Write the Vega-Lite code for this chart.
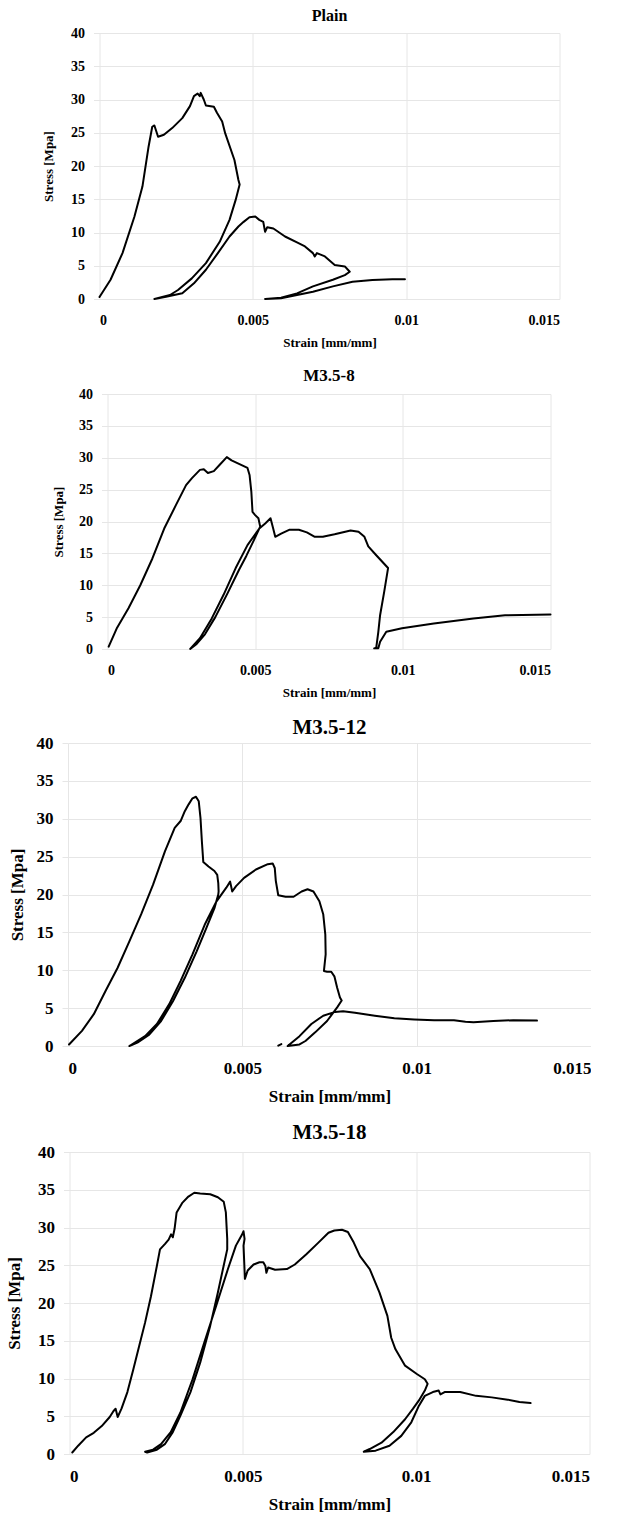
{
  "$schema": "https://vega.github.io/schema/vega-lite/v6.json",
  "background": "white",
  "padding": {"left": 5, "top": 8, "right": 0, "bottom": 0},
  "spacing": 18,
  "center": true,
  "config": {
    "font": "Liberation Serif",
    "view": {"stroke": null},
    "axis": {
      "labelFont": "Liberation Serif", "labelFontWeight": "bold", "labelColor": "#000",
      "titleFont": "Liberation Serif", "titleFontWeight": "bold", "titleColor": "#000",
      "gridColor": "#e6e6e6", "gridWidth": 1, "domain": false,
      "tickColor": "#e6e6e6", "tickSize": 5, "labelPadding": 9, "titleBaseline": "middle"
    },
    "axisY": {"tickSize": 6},
    "axisX": {"tickOpacity": 0},
    "title": {"font": "Liberation Serif", "fontWeight": "bold", "color": "#000", "frame": "group", "anchor": "middle"},
    "line": {"color": "#000", "strokeWidth": 2, "strokeJoin": "round", "strokeCap": "round"}
  },
  "datasets": {
    "plain": [
      {"seg":1,"i":0,"strain":0,"stress":0.3},{"seg":1,"i":1,"strain":0.00036,"stress":2.9},{"seg":1,"i":2,"strain":0.00075,"stress":6.9},{"seg":1,"i":3,"strain":0.00114,"stress":12.4},{"seg":1,"i":4,"strain":0.0014,"stress":16.9},{"seg":1,"i":5,"strain":0.0016,"stress":22.9},{"seg":1,"i":6,"strain":0.00172,"stress":25.9},{"seg":1,"i":7,"strain":0.00179,"stress":26.1},{"seg":1,"i":8,"strain":0.00191,"stress":24.4},{"seg":1,"i":9,"strain":0.0021,"stress":24.7},{"seg":1,"i":10,"strain":0.00237,"stress":25.7},{"seg":1,"i":11,"strain":0.0027,"stress":27.2},{"seg":1,"i":12,"strain":0.00295,"stress":29.0},{"seg":1,"i":13,"strain":0.00308,"stress":30.5},{"seg":1,"i":14,"strain":0.0032,"stress":30.9},{"seg":1,"i":15,"strain":0.00327,"stress":30.5},{"seg":1,"i":16,"strain":0.0033,"stress":31.0},{"seg":1,"i":17,"strain":0.0034,"stress":30.0},{"seg":1,"i":18,"strain":0.00347,"stress":29.1},{"seg":1,"i":19,"strain":0.00373,"stress":28.9},{"seg":1,"i":20,"strain":0.00383,"stress":28.0},{"seg":1,"i":21,"strain":0.004,"stress":26.7},{"seg":1,"i":22,"strain":0.0041,"stress":24.9},{"seg":1,"i":23,"strain":0.0044,"stress":20.9},{"seg":1,"i":24,"strain":0.00453,"stress":17.9},{"seg":1,"i":25,"strain":0.00457,"stress":17.2},
      {"seg":1,"i":26,"strain":0.00444,"stress":14.9},{"seg":1,"i":27,"strain":0.00424,"stress":11.9},{"seg":1,"i":28,"strain":0.00392,"stress":8.6},{"seg":1,"i":29,"strain":0.00347,"stress":5.4},{"seg":1,"i":30,"strain":0.00301,"stress":3.1},{"seg":1,"i":31,"strain":0.00256,"stress":1.35},{"seg":1,"i":32,"strain":0.0023,"stress":0.6},{"seg":1,"i":33,"strain":0.00179,"stress":0},
      {"seg":1,"i":34,"strain":0.00217,"stress":0.35},{"seg":1,"i":35,"strain":0.0027,"stress":0.85},{"seg":1,"i":36,"strain":0.00308,"stress":2.36},{"seg":1,"i":37,"strain":0.00347,"stress":4.4},{"seg":1,"i":38,"strain":0.00386,"stress":6.9},{"seg":1,"i":39,"strain":0.00424,"stress":9.4},{"seg":1,"i":40,"strain":0.00453,"stress":10.9},{"seg":1,"i":41,"strain":0.0047,"stress":11.6},{"seg":1,"i":42,"strain":0.00489,"stress":12.3},{"seg":1,"i":43,"strain":0.00508,"stress":12.4},{"seg":1,"i":44,"strain":0.00521,"stress":11.9},{"seg":1,"i":45,"strain":0.00534,"stress":11.6},{"seg":1,"i":46,"strain":0.0054,"stress":10.1},{"seg":1,"i":47,"strain":0.00547,"stress":10.8},{"seg":1,"i":48,"strain":0.00567,"stress":10.6},{"seg":1,"i":49,"strain":0.00605,"stress":9.4},{"seg":1,"i":50,"strain":0.00644,"stress":8.5},{"seg":1,"i":51,"strain":0.0067,"stress":7.9},{"seg":1,"i":52,"strain":0.00696,"stress":6.9},{"seg":1,"i":53,"strain":0.00702,"stress":6.4},{"seg":1,"i":54,"strain":0.00709,"stress":6.9},{"seg":1,"i":55,"strain":0.00735,"stress":6.4},{"seg":1,"i":56,"strain":0.00767,"stress":5.1},{"seg":1,"i":57,"strain":0.008,"stress":4.9},{"seg":1,"i":58,"strain":0.00816,"stress":4.1},
      {"seg":1,"i":59,"strain":0.008,"stress":3.6},{"seg":1,"i":60,"strain":0.00761,"stress":2.9},{"seg":1,"i":61,"strain":0.00696,"stress":1.9},{"seg":1,"i":62,"strain":0.00644,"stress":0.85},{"seg":1,"i":63,"strain":0.00592,"stress":0.2},{"seg":1,"i":64,"strain":0.0054,"stress":0},
      {"seg":1,"i":65,"strain":0.00592,"stress":0.1},{"seg":1,"i":66,"strain":0.00644,"stress":0.6},{"seg":1,"i":67,"strain":0.00696,"stress":1.1},{"seg":1,"i":68,"strain":0.00761,"stress":1.9},{"seg":1,"i":69,"strain":0.00825,"stress":2.6},{"seg":1,"i":70,"strain":0.0089,"stress":2.86},{"seg":1,"i":71,"strain":0.00955,"stress":2.96},{"seg":1,"i":72,"strain":0.00996,"stress":2.96}
    ],
    "m8": [
      {"seg":1,"i":0,"strain":0.00004,"stress":0.37},{"seg":1,"i":1,"strain":0.00031,"stress":3.2},{"seg":1,"i":2,"strain":0.00071,"stress":6.4},{"seg":1,"i":3,"strain":0.00111,"stress":10},{"seg":1,"i":4,"strain":0.00152,"stress":14.2},{"seg":1,"i":5,"strain":0.00192,"stress":18.9},{"seg":1,"i":6,"strain":0.00232,"stress":22.6},{"seg":1,"i":7,"strain":0.00266,"stress":25.7},{"seg":1,"i":8,"strain":0.00286,"stress":26.8},{"seg":1,"i":9,"strain":0.00313,"stress":28.1},{"seg":1,"i":10,"strain":0.00326,"stress":28.2},{"seg":1,"i":11,"strain":0.0034,"stress":27.6},{"seg":1,"i":12,"strain":0.0036,"stress":27.9},{"seg":1,"i":13,"strain":0.0038,"stress":28.9},{"seg":1,"i":14,"strain":0.00404,"stress":30.1},{"seg":1,"i":15,"strain":0.0042,"stress":29.6},{"seg":1,"i":16,"strain":0.00447,"stress":29},{"seg":1,"i":17,"strain":0.00474,"stress":28.4},{"seg":1,"i":18,"strain":0.00481,"stress":27.3},{"seg":1,"i":19,"strain":0.00487,"stress":24.7},{"seg":1,"i":20,"strain":0.00491,"stress":21.5},{"seg":1,"i":21,"strain":0.005,"stress":21},{"seg":1,"i":22,"strain":0.00511,"stress":20.5},{"seg":1,"i":23,"strain":0.00517,"stress":19.2},
      {"seg":1,"i":24,"strain":0.00495,"stress":17.0},{"seg":1,"i":25,"strain":0.0047,"stress":14.6},{"seg":1,"i":26,"strain":0.00445,"stress":12.4},{"seg":1,"i":27,"strain":0.00405,"stress":8.6},{"seg":1,"i":28,"strain":0.00365,"stress":5.0},{"seg":1,"i":29,"strain":0.0033,"stress":2.3},{"seg":1,"i":30,"strain":0.00302,"stress":0.8},{"seg":1,"i":31,"strain":0.0028,"stress":0},
      {"seg":1,"i":32,"strain":0.00313,"stress":1.7},{"seg":1,"i":33,"strain":0.00353,"stress":4.8},{"seg":1,"i":34,"strain":0.00393,"stress":8.5},{"seg":1,"i":35,"strain":0.00434,"stress":12.7},{"seg":1,"i":36,"strain":0.00474,"stress":16.3},{"seg":1,"i":37,"strain":0.00514,"stress":18.9},{"seg":1,"i":38,"strain":0.00534,"stress":19.7},{"seg":1,"i":39,"strain":0.00552,"stress":20.5},{"seg":1,"i":40,"strain":0.00561,"stress":18.9},{"seg":1,"i":41,"strain":0.00568,"stress":17.6},{"seg":1,"i":42,"strain":0.00588,"stress":18.1},{"seg":1,"i":43,"strain":0.00615,"stress":18.7},{"seg":1,"i":44,"strain":0.00648,"stress":18.7},{"seg":1,"i":45,"strain":0.00675,"stress":18.3},{"seg":1,"i":46,"strain":0.00702,"stress":17.6},{"seg":1,"i":47,"strain":0.00729,"stress":17.6},{"seg":1,"i":48,"strain":0.00769,"stress":18},{"seg":1,"i":49,"strain":0.00823,"stress":18.6},{"seg":1,"i":50,"strain":0.0085,"stress":18.4},{"seg":1,"i":51,"strain":0.0087,"stress":17.6},{"seg":1,"i":52,"strain":0.00883,"stress":16.1},{"seg":1,"i":53,"strain":0.0091,"stress":14.7},{"seg":1,"i":54,"strain":0.0095,"stress":12.7},
      {"seg":1,"i":55,"strain":0.00937,"stress":9},{"seg":1,"i":56,"strain":0.00923,"stress":5.3},{"seg":1,"i":57,"strain":0.00917,"stress":2.7},{"seg":1,"i":58,"strain":0.0091,"stress":0.2},{"seg":1,"i":59,"strain":0.00903,"stress":0.1},
      {"seg":1,"i":60,"strain":0.00917,"stress":0.1},{"seg":1,"i":61,"strain":0.00923,"stress":1.15},{"seg":1,"i":62,"strain":0.00944,"stress":2.7},{"seg":1,"i":63,"strain":0.00997,"stress":3.24},{"seg":1,"i":64,"strain":0.01105,"stress":4.0},{"seg":1,"i":65,"strain":0.01239,"stress":4.8},{"seg":1,"i":66,"strain":0.01346,"stress":5.3},{"seg":1,"i":67,"strain":0.015,"stress":5.4}
    ],
    "m12": [
      {"seg":1,"i":0,"strain":0.00003,"stress":0.2},{"seg":1,"i":1,"strain":0.0004,"stress":2},{"seg":1,"i":2,"strain":0.00074,"stress":4.2},{"seg":1,"i":3,"strain":0.00108,"stress":7.3},{"seg":1,"i":4,"strain":0.00142,"stress":10.3},{"seg":1,"i":5,"strain":0.00176,"stress":13.8},{"seg":1,"i":6,"strain":0.0021,"stress":17.4},{"seg":1,"i":7,"strain":0.00244,"stress":21.3},{"seg":1,"i":8,"strain":0.00278,"stress":25.7},{"seg":1,"i":9,"strain":0.00306,"stress":28.8},{"seg":1,"i":10,"strain":0.00323,"stress":29.7},{"seg":1,"i":11,"strain":0.00335,"stress":31},{"seg":1,"i":12,"strain":0.00346,"stress":31.9},{"seg":1,"i":13,"strain":0.00357,"stress":32.7},{"seg":1,"i":14,"strain":0.00367,"stress":32.9},{"seg":1,"i":15,"strain":0.00375,"stress":32.3},{"seg":1,"i":16,"strain":0.0038,"stress":30.1},{"seg":1,"i":17,"strain":0.00384,"stress":27},{"seg":1,"i":18,"strain":0.00388,"stress":24.3},{"seg":1,"i":19,"strain":0.00403,"stress":23.7},{"seg":1,"i":20,"strain":0.0042,"stress":23.1},{"seg":1,"i":21,"strain":0.00428,"stress":22.6},{"seg":1,"i":22,"strain":0.00431,"stress":21.5},{"seg":1,"i":23,"strain":0.00432,"stress":20.4},{"seg":1,"i":24,"strain":0.00431,"stress":20},
      {"seg":1,"i":25,"strain":0.0042,"stress":18.2},{"seg":1,"i":26,"strain":0.00397,"stress":15.6},{"seg":1,"i":27,"strain":0.00369,"stress":12.5},{"seg":1,"i":28,"strain":0.00335,"stress":9},{"seg":1,"i":29,"strain":0.00301,"stress":5.9},{"seg":1,"i":30,"strain":0.00267,"stress":3.3},{"seg":1,"i":31,"strain":0.00233,"stress":1.5},{"seg":1,"i":32,"strain":0.00199,"stress":0.44},{"seg":1,"i":33,"strain":0.00176,"stress":0},
      {"seg":1,"i":34,"strain":0.00221,"stress":1.3},{"seg":1,"i":35,"strain":0.00255,"stress":2.9},{"seg":1,"i":36,"strain":0.0029,"stress":5.5},{"seg":1,"i":37,"strain":0.00323,"stress":8.6},{"seg":1,"i":38,"strain":0.00357,"stress":12.1},{"seg":1,"i":39,"strain":0.00392,"stress":16},{"seg":1,"i":40,"strain":0.00426,"stress":19.1},{"seg":1,"i":41,"strain":0.00454,"stress":20.9},{"seg":1,"i":42,"strain":0.00465,"stress":21.7},{"seg":1,"i":43,"strain":0.00471,"stress":20.4},{"seg":1,"i":44,"strain":0.00482,"stress":21.1},{"seg":1,"i":45,"strain":0.00505,"stress":22.2},{"seg":1,"i":46,"strain":0.00539,"stress":23.3},{"seg":1,"i":47,"strain":0.00573,"stress":24},{"seg":1,"i":48,"strain":0.00587,"stress":24.1},{"seg":1,"i":49,"strain":0.00593,"stress":23.5},{"seg":1,"i":50,"strain":0.00596,"stress":21.8},{"seg":1,"i":51,"strain":0.00603,"stress":19.9},{"seg":1,"i":52,"strain":0.00624,"stress":19.7},{"seg":1,"i":53,"strain":0.00647,"stress":19.7},{"seg":1,"i":54,"strain":0.0067,"stress":20.4},{"seg":1,"i":55,"strain":0.00687,"stress":20.7},{"seg":1,"i":56,"strain":0.00704,"stress":20.4},{"seg":1,"i":57,"strain":0.00721,"stress":19.1},{"seg":1,"i":58,"strain":0.00732,"stress":17.4},{"seg":1,"i":59,"strain":0.00738,"stress":14.7},{"seg":1,"i":60,"strain":0.00739,"stress":12.1},{"seg":1,"i":61,"strain":0.00734,"stress":9.9},{"seg":1,"i":62,"strain":0.00743,"stress":9.8},{"seg":1,"i":63,"strain":0.00755,"stress":9.8},{"seg":1,"i":64,"strain":0.00764,"stress":9.2},{"seg":1,"i":65,"strain":0.00772,"stress":7.7},{"seg":1,"i":66,"strain":0.0078,"stress":6.4},{"seg":1,"i":67,"strain":0.00785,"stress":6},
      {"seg":1,"i":68,"strain":0.00772,"stress":5.1},{"seg":1,"i":69,"strain":0.00743,"stress":3.3},{"seg":1,"i":70,"strain":0.00709,"stress":1.8},{"seg":1,"i":71,"strain":0.00681,"stress":0.66},{"seg":1,"i":72,"strain":0.00664,"stress":0.2},{"seg":1,"i":73,"strain":0.0063,"stress":0},
      {"seg":1,"i":74,"strain":0.00664,"stress":1.3},{"seg":1,"i":75,"strain":0.00698,"stress":2.9},{"seg":1,"i":76,"strain":0.00732,"stress":4},{"seg":1,"i":77,"strain":0.00766,"stress":4.5},{"seg":1,"i":78,"strain":0.00789,"stress":4.6},{"seg":1,"i":79,"strain":0.00823,"stress":4.4},{"seg":1,"i":80,"strain":0.0088,"stress":4},{"seg":1,"i":81,"strain":0.00936,"stress":3.65},{"seg":1,"i":82,"strain":0.00993,"stress":3.5},{"seg":1,"i":83,"strain":0.0105,"stress":3.4},{"seg":1,"i":84,"strain":0.01107,"stress":3.4},{"seg":1,"i":85,"strain":0.0114,"stress":3.2},{"seg":1,"i":86,"strain":0.01163,"stress":3.15},{"seg":1,"i":87,"strain":0.0122,"stress":3.3},{"seg":1,"i":88,"strain":0.01277,"stress":3.4},{"seg":1,"i":89,"strain":0.01345,"stress":3.35},
      {"seg":2,"i":0,"strain":0.00603,"stress":0.05},{"seg":2,"i":1,"strain":0.00612,"stress":0.25}
    ],
    "m18": [
      {"seg":1,"i":0,"strain":0.00008,"stress":0.2},{"seg":1,"i":1,"strain":0.00025,"stress":1.1},{"seg":1,"i":2,"strain":0.00048,"stress":2.2},{"seg":1,"i":3,"strain":0.0007,"stress":2.8},{"seg":1,"i":4,"strain":0.00093,"stress":3.7},{"seg":1,"i":5,"strain":0.00116,"stress":4.9},{"seg":1,"i":6,"strain":0.00127,"stress":5.7},{"seg":1,"i":7,"strain":0.00133,"stress":6},{"seg":1,"i":8,"strain":0.00139,"stress":4.9},{"seg":1,"i":9,"strain":0.0015,"stress":6},{"seg":1,"i":10,"strain":0.00167,"stress":8.2},{"seg":1,"i":11,"strain":0.00184,"stress":11.2},{"seg":1,"i":12,"strain":0.00201,"stress":14.3},{"seg":1,"i":13,"strain":0.00218,"stress":17.4},{"seg":1,"i":14,"strain":0.00235,"stress":20.9},{"seg":1,"i":15,"strain":0.00252,"stress":24.9},{"seg":1,"i":16,"strain":0.00261,"stress":27.1},{"seg":1,"i":17,"strain":0.00275,"stress":27.8},{"seg":1,"i":18,"strain":0.00286,"stress":28.4},{"seg":1,"i":19,"strain":0.00293,"stress":29.1},{"seg":1,"i":20,"strain":0.00298,"stress":28.7},{"seg":1,"i":21,"strain":0.00303,"stress":29.8},{"seg":1,"i":22,"strain":0.00309,"stress":32},{"seg":1,"i":23,"strain":0.00326,"stress":33.3},{"seg":1,"i":24,"strain":0.00343,"stress":34.1},{"seg":1,"i":25,"strain":0.0036,"stress":34.6},{"seg":1,"i":26,"strain":0.00377,"stress":34.5},{"seg":1,"i":27,"strain":0.00406,"stress":34.4},{"seg":1,"i":28,"strain":0.00428,"stress":34},{"seg":1,"i":29,"strain":0.00445,"stress":33.4},{"seg":1,"i":30,"strain":0.00451,"stress":32},{"seg":1,"i":31,"strain":0.00455,"stress":28.5},{"seg":1,"i":32,"strain":0.00455,"stress":27.1},
      {"seg":1,"i":33,"strain":0.00445,"stress":25.0},{"seg":1,"i":34,"strain":0.00428,"stress":21.4},{"seg":1,"i":35,"strain":0.00406,"stress":17},{"seg":1,"i":36,"strain":0.00377,"stress":12.1},{"seg":1,"i":37,"strain":0.00349,"stress":8.2},{"seg":1,"i":38,"strain":0.0032,"stress":5.1},{"seg":1,"i":39,"strain":0.00298,"stress":2.9},{"seg":1,"i":40,"strain":0.00275,"stress":1.3},{"seg":1,"i":41,"strain":0.00252,"stress":0.57},{"seg":1,"i":42,"strain":0.00224,"stress":0.2},{"seg":1,"i":43,"strain":0.00218,"stress":0.3},
      {"seg":1,"i":44,"strain":0.00241,"stress":0.57},{"seg":1,"i":45,"strain":0.00264,"stress":1.3},{"seg":1,"i":46,"strain":0.00292,"stress":2.9},{"seg":1,"i":47,"strain":0.0032,"stress":5.5},{"seg":1,"i":48,"strain":0.00355,"stress":9.9},{"seg":1,"i":49,"strain":0.00389,"stress":14.8},{"seg":1,"i":50,"strain":0.00423,"stress":19.6},{"seg":1,"i":51,"strain":0.00457,"stress":24.5},{"seg":1,"i":52,"strain":0.0048,"stress":27.6},{"seg":1,"i":53,"strain":0.00491,"stress":28.5},{"seg":1,"i":54,"strain":0.00497,"stress":29},{"seg":1,"i":55,"strain":0.00502,"stress":29.5},{"seg":1,"i":56,"strain":0.00505,"stress":28.5},{"seg":1,"i":57,"strain":0.00502,"stress":27.6},{"seg":1,"i":58,"strain":0.00506,"stress":23.2},{"seg":1,"i":59,"strain":0.00514,"stress":24.3},{"seg":1,"i":60,"strain":0.00531,"stress":25.1},{"seg":1,"i":61,"strain":0.00548,"stress":25.4},{"seg":1,"i":62,"strain":0.00559,"stress":25.4},{"seg":1,"i":63,"strain":0.00565,"stress":24.9},{"seg":1,"i":64,"strain":0.00568,"stress":24},{"seg":1,"i":65,"strain":0.00573,"stress":24.7},{"seg":1,"i":66,"strain":0.00593,"stress":24.4},{"seg":1,"i":67,"strain":0.00627,"stress":24.5},{"seg":1,"i":68,"strain":0.0065,"stress":25.1},{"seg":1,"i":69,"strain":0.00684,"stress":26.5},{"seg":1,"i":70,"strain":0.00718,"stress":28},{"seg":1,"i":71,"strain":0.00747,"stress":29.3},{"seg":1,"i":72,"strain":0.00764,"stress":29.6},{"seg":1,"i":73,"strain":0.00786,"stress":29.7},{"seg":1,"i":74,"strain":0.00803,"stress":29.4},{"seg":1,"i":75,"strain":0.0082,"stress":28},{"seg":1,"i":76,"strain":0.00838,"stress":26.2},{"seg":1,"i":77,"strain":0.00866,"stress":24.5},{"seg":1,"i":78,"strain":0.00894,"stress":21.4},{"seg":1,"i":79,"strain":0.00917,"stress":18.3},{"seg":1,"i":80,"strain":0.00928,"stress":15.4},{"seg":1,"i":81,"strain":0.0094,"stress":13.9},{"seg":1,"i":82,"strain":0.00968,"stress":11.7},{"seg":1,"i":83,"strain":0.01002,"stress":10.6},{"seg":1,"i":84,"strain":0.01025,"stress":9.9},{"seg":1,"i":85,"strain":0.01033,"stress":9.3},
      {"seg":1,"i":86,"strain":0.01025,"stress":8.4},{"seg":1,"i":87,"strain":0.01008,"stress":7.1},{"seg":1,"i":88,"strain":0.00991,"stress":6},{"seg":1,"i":89,"strain":0.00968,"stress":4.6},{"seg":1,"i":90,"strain":0.00934,"stress":2.9},{"seg":1,"i":91,"strain":0.009,"stress":1.5},{"seg":1,"i":92,"strain":0.00866,"stress":0.66},{"seg":1,"i":93,"strain":0.00849,"stress":0.3},
      {"seg":1,"i":94,"strain":0.00883,"stress":0.44},{"seg":1,"i":95,"strain":0.00923,"stress":1.1},{"seg":1,"i":96,"strain":0.00957,"stress":2.4},{"seg":1,"i":97,"strain":0.00986,"stress":4.2},{"seg":1,"i":98,"strain":0.01008,"stress":6.4},{"seg":1,"i":99,"strain":0.01025,"stress":7.7},{"seg":1,"i":100,"strain":0.01048,"stress":8.2},{"seg":1,"i":101,"strain":0.01065,"stress":8.4},{"seg":1,"i":102,"strain":0.0107,"stress":7.9},{"seg":1,"i":103,"strain":0.01082,"stress":8.2},{"seg":1,"i":104,"strain":0.01127,"stress":8.2},{"seg":1,"i":105,"strain":0.01173,"stress":7.7},{"seg":1,"i":106,"strain":0.01218,"stress":7.5},{"seg":1,"i":107,"strain":0.01264,"stress":7.2},{"seg":1,"i":108,"strain":0.01298,"stress":6.9},{"seg":1,"i":109,"strain":0.0133,"stress":6.75}
    ]
  },
  "vconcat": [
    {
      "width": 460, "height": 266,
      "title": {"text": "Plain", "fontSize": 16, "offset": 2},
      "data": {"name": "plain"},
      "mark": {"type": "line"},
      "encoding": {
        "x": {"field": "strain", "type": "quantitative", "scale": {"domain": [0, 0.015], "nice": false},
              "axis": {"values": [0, 0.005, 0.01, 0.015], "format": ".3~f", "title": "Strain [mm/mm]", "labelFontSize": 14, "titleFontSize": 13, "titleY": 43}},
        "y": {"field": "stress", "type": "quantitative", "scale": {"domain": [0, 40], "nice": false},
              "axis": {"values": [0, 5, 10, 15, 20, 25, 30, 35, 40], "title": "Stress [Mpa]", "labelFontSize": 14, "titleFontSize": 13, "titleX": -51}},
        "order": {"field": "i", "type": "quantitative"},
        "detail": {"field": "seg", "type": "nominal"}
      }
    },
    {
      "width": 443, "height": 255,
      "title": {"text": "M3.5-8", "fontSize": 17, "offset": 2},
      "data": {"name": "m8"},
      "mark": {"type": "line"},
      "encoding": {
        "x": {"field": "strain", "type": "quantitative", "scale": {"domain": [0, 0.015], "nice": false},
              "axis": {"values": [0, 0.005, 0.01, 0.015], "format": ".3~f", "title": "Strain [mm/mm]", "labelFontSize": 14, "titleFontSize": 13, "titleY": 43}},
        "y": {"field": "stress", "type": "quantitative", "scale": {"domain": [0, 40], "nice": false},
              "axis": {"values": [0, 5, 10, 15, 20, 25, 30, 35, 40], "title": "Stress [Mpa]", "labelFontSize": 14, "titleFontSize": 13, "titleX": -49}},
        "order": {"field": "i", "type": "quantitative"},
        "detail": {"field": "seg", "type": "nominal"}
      }
    },
    {
      "width": 523, "height": 303,
      "title": {"text": "M3.5-12", "fontSize": 21, "offset": -4},
      "data": {"name": "m12"},
      "mark": {"type": "line"},
      "encoding": {
        "x": {"field": "strain", "type": "quantitative", "scale": {"domain": [0, 0.015], "nice": false},
              "axis": {"values": [0, 0.005, 0.01, 0.015], "format": ".3~f", "title": "Strain [mm/mm]", "labelFontSize": 17, "titleFontSize": 17, "titleY": 50}},
        "y": {"field": "stress", "type": "quantitative", "scale": {"domain": [0, 40], "nice": false},
              "axis": {"values": [0, 5, 10, 15, 20, 25, 30, 35, 40], "title": "Stress [Mpa]", "labelFontSize": 17, "titleFontSize": 17, "titleX": -51}},
        "order": {"field": "i", "type": "quantitative"},
        "detail": {"field": "seg", "type": "nominal"}
      }
    },
    {
      "width": 520, "height": 302,
      "title": {"text": "M3.5-18", "fontSize": 21, "offset": 0},
      "data": {"name": "m18"},
      "mark": {"type": "line"},
      "encoding": {
        "x": {"field": "strain", "type": "quantitative", "scale": {"domain": [0, 0.015], "nice": false},
              "axis": {"values": [0, 0.005, 0.01, 0.015], "format": ".3~f", "title": "Strain [mm/mm]", "labelFontSize": 17, "titleFontSize": 17, "titleY": 50}},
        "y": {"field": "stress", "type": "quantitative", "scale": {"domain": [0, 40], "nice": false},
              "axis": {"values": [0, 5, 10, 15, 20, 25, 30, 35, 40], "title": "Stress [Mpa]", "labelFontSize": 17, "titleFontSize": 17, "titleX": -55}},
        "order": {"field": "i", "type": "quantitative"},
        "detail": {"field": "seg", "type": "nominal"}
      }
    }
  ]
}
